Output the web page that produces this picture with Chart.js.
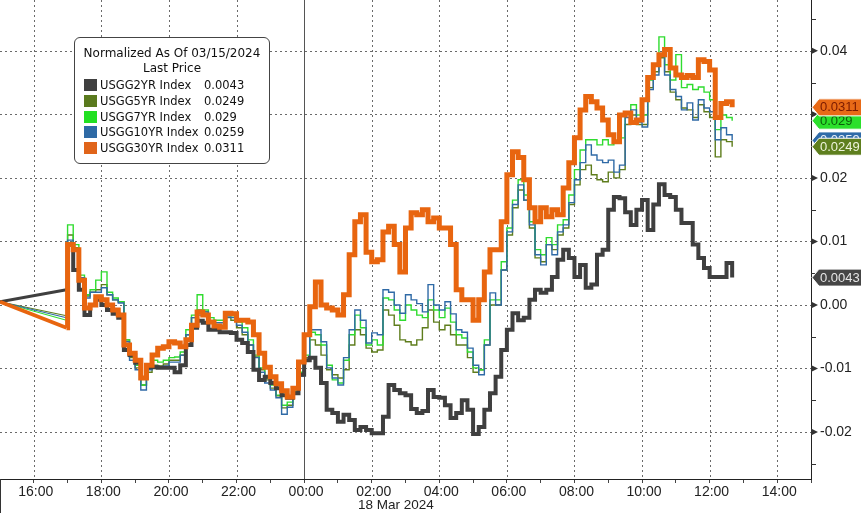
<!DOCTYPE html>
<html><head><meta charset="utf-8">
<script src="https://cdn.jsdelivr.net/npm/chart.js@4.4.1/dist/chart.umd.min.js"></script>
<style>
html,body{margin:0;padding:0;background:#fff;overflow:hidden;}
#wrap{position:relative;width:861px;height:513px;}
#c{position:absolute;left:0;top:0;}
#legend{position:absolute;left:74px;top:37px;width:196px;height:127px;box-sizing:border-box;border:1px solid #444;border-radius:6px;background:#fff;font-family:'DejaVu Sans',Verdana,sans-serif;font-size:12px;color:#111;}
#legend .lt{position:absolute;left:0;width:100%;text-align:center;height:16px;line-height:16px;white-space:nowrap;}
#legend .row{position:absolute;left:0;width:100%;height:16px;line-height:16px;white-space:nowrap;font-size:11.5px;}
#legend .sq{position:absolute;left:9px;top:2px;width:13px;height:12px;}
#legend .nm{position:absolute;left:25px;top:0;}
#legend .vl{position:absolute;left:129px;top:0;}
</style></head><body>
<div id="wrap"><canvas id="c" width="861" height="513"></canvas><div id="legend"></div></div>
<script>
// ---------- DATA ----------
const times = ['15:00','16:58',
 '17:00','17:10','17:20','17:30','17:40','17:50',
 '18:00','18:10','18:20','18:30','18:40','18:50',
 '19:00','19:10','19:20','19:30','19:40','19:50',
 '20:00','20:10','20:20','20:30','20:40','20:50',
 '21:00','21:10','21:20','21:30','21:40','21:50',
 '22:00','22:10','22:20','22:30','22:40','22:50',
 '23:00','23:10','23:20','23:30','23:40','23:50',
 '00:00','00:10','00:20','00:30','00:40','00:50',
 '01:00','01:10','01:20','01:30','01:40','01:50',
 '02:00','02:10','02:20','02:30','02:40','02:50',
 '03:00','03:10','03:20','03:30','03:40','03:50',
 '04:00','04:10','04:20','04:30','04:40','04:50',
 '05:00','05:10','05:20','05:30','05:40','05:50',
 '06:00','06:10','06:20','06:30','06:40','06:50',
 '07:00','07:10','07:20','07:30','07:40','07:50',
 '08:00','08:10','08:20','08:30','08:40','08:50',
 '09:00','09:10','09:20','09:30','09:40','09:50',
 '10:00','10:10','10:20','10:30','10:40','10:50',
 '11:00','11:10','11:20','11:30','11:40','11:50',
 '12:00','12:10','12:20','12:30','12:40'];

const usgg2yr = [0.0005, 0.0024,
 0.0095, 0.0055, 0.0024, -0.0016, 0.0000, 0.0008,
 0.0000, -0.0008, -0.0014, -0.0020, -0.0071, -0.0079,
 -0.0091, -0.0115, -0.0098, -0.0098, -0.0099, -0.0099,
 -0.0099, -0.0106, -0.0095, -0.0063, -0.0036, -0.0025,
 -0.0028, -0.0039, -0.0039, -0.0043, -0.0043, -0.0044,
 -0.0055, -0.0060, -0.0074, -0.0102, -0.0118, -0.0113,
 -0.0123, -0.0131, -0.0142, -0.0146, -0.0139, -0.0110,
 -0.0087, -0.0083, -0.0099, -0.0123, -0.0165, -0.0170,
 -0.0184, -0.0173, -0.0181, -0.0197, -0.0192, -0.0197,
 -0.0202, -0.0202, -0.0176, -0.0126, -0.0134, -0.0139,
 -0.0142, -0.0164, -0.0170, -0.0167, -0.0134, -0.0145,
 -0.0146, -0.0158, -0.0178, -0.0170, -0.0150, -0.0165,
 -0.0203, -0.0192, -0.0165, -0.0139, -0.0113, -0.0071,
 -0.0039, -0.0013, -0.0024, -0.0020, 0.0008, 0.0024,
 0.0019, 0.0024, 0.0044, 0.0071, 0.0087, 0.0074,
 0.0044, 0.0063, 0.0027, 0.0032, 0.0079, 0.0087,
 0.0150, 0.0170, 0.0168, 0.0146, 0.0126, 0.0150,
 0.0165, 0.0118, 0.0158, 0.0190, 0.0173, 0.0170,
 0.0150, 0.0129, 0.0129, 0.0095, 0.0074, 0.0058,
 0.0044, 0.0044, 0.0044, 0.0066, 0.0043];

const usgg5yr = [0.0005, -0.0017,
 0.0110, 0.0090, 0.0043, 0.0014, 0.0020, 0.0024,
 0.0032, 0.0016, 0.0008, 0.0005, -0.0055, -0.0083,
 -0.0099, -0.0126, -0.0106, -0.0095, -0.0096, -0.0093,
 -0.0087, -0.0087, -0.0079, -0.0047, -0.0020, -0.0008,
 -0.0011, -0.0027, -0.0032, -0.0032, -0.0020, -0.0024,
 -0.0036, -0.0047, -0.0063, -0.0082, -0.0102, -0.0118,
 -0.0131, -0.0143, -0.0162, -0.0158, -0.0137, -0.0110,
 -0.0083, -0.0055, -0.0063, -0.0079, -0.0102, -0.0110,
 -0.0115, -0.0102, -0.0063, -0.0039, -0.0047, -0.0068,
 -0.0074, -0.0071, -0.0008, -0.0016, -0.0032, -0.0055,
 -0.0058, -0.0063, -0.0055, -0.0036, -0.0008, -0.0027,
 -0.0039, -0.0032, -0.0047, -0.0063, -0.0063, -0.0083,
 -0.0106, -0.0102, -0.0063, 0.0000, 0.0000, 0.0055,
 0.0110, 0.0153, 0.0181, 0.0165, 0.0121, 0.0074,
 0.0068, 0.0095, 0.0087, 0.0110, 0.0121, 0.0158,
 0.0189, 0.0213, 0.0220, 0.0205, 0.0197, 0.0194,
 0.0209, 0.0200, 0.0213, 0.0284, 0.0299, 0.0284,
 0.0284, 0.0342, 0.0367, 0.0389, 0.0367, 0.0335,
 0.0323, 0.0310, 0.0307, 0.0295, 0.0315, 0.0304,
 0.0295, 0.0233, 0.0260, 0.0257, 0.0249];

const usgg7yr = [0.0005, -0.0024,
 0.0126, 0.0095, 0.0047, 0.0016, 0.0024, 0.0039,
 0.0052, 0.0020, 0.0011, 0.0005, -0.0055, -0.0079,
 -0.0095, -0.0126, -0.0099, -0.0087, -0.0090, -0.0087,
 -0.0083, -0.0082, -0.0074, -0.0039, -0.0016, 0.0016,
 -0.0008, -0.0020, -0.0024, -0.0024, -0.0016, -0.0017,
 -0.0027, -0.0036, -0.0055, -0.0079, -0.0099, -0.0115,
 -0.0126, -0.0142, -0.0158, -0.0153, -0.0134, -0.0106,
 -0.0079, -0.0043, -0.0047, -0.0063, -0.0095, -0.0118,
 -0.0123, -0.0087, -0.0047, -0.0016, -0.0036, -0.0063,
 -0.0055, -0.0063, 0.0011, 0.0008, -0.0008, -0.0024,
 0.0000, -0.0008, -0.0016, -0.0020, 0.0008, -0.0008,
 -0.0020, -0.0005, -0.0027, -0.0047, -0.0052, -0.0074,
 -0.0099, -0.0102, -0.0055, 0.0008, 0.0008, 0.0068,
 0.0121, 0.0165, 0.0197, 0.0173, 0.0131, 0.0087,
 0.0079, 0.0106, 0.0095, 0.0126, 0.0134, 0.0173,
 0.0213, 0.0244, 0.0260, 0.0260, 0.0252, 0.0260,
 0.0252, 0.0257, 0.0263, 0.0304, 0.0315, 0.0299,
 0.0299, 0.0354, 0.0378, 0.0422, 0.0378, 0.0354,
 0.0394, 0.0342, 0.0347, 0.0339, 0.0343, 0.0335,
 0.0323, 0.0276, 0.0299, 0.0295, 0.0290];

const usgg10yr = [0.0005, -0.0020,
 0.0102, 0.0087, 0.0043, 0.0011, 0.0020, 0.0020,
 0.0027, 0.0016, 0.0008, 0.0003, -0.0058, -0.0087,
 -0.0102, -0.0134, -0.0102, -0.0096, -0.0099, -0.0096,
 -0.0090, -0.0090, -0.0079, -0.0047, -0.0020, -0.0016,
 -0.0011, -0.0027, -0.0028, -0.0028, -0.0019, -0.0020,
 -0.0032, -0.0043, -0.0063, -0.0083, -0.0106, -0.0123,
 -0.0134, -0.0146, -0.0172, -0.0161, -0.0139, -0.0112,
 -0.0087, -0.0039, -0.0039, -0.0058, -0.0099, -0.0115,
 -0.0126, -0.0083, -0.0039, -0.0008, -0.0024, -0.0060,
 -0.0044, -0.0047, 0.0024, 0.0020, 0.0000, -0.0013,
 0.0016, 0.0008, 0.0002, -0.0011, 0.0032, 0.0000,
 -0.0008, 0.0005, -0.0014, -0.0039, -0.0043, -0.0068,
 -0.0095, -0.0110, -0.0063, 0.0019, 0.0000, 0.0055,
 0.0115, 0.0158, 0.0189, 0.0165, 0.0126, 0.0079,
 0.0063, 0.0095, 0.0079, 0.0115, 0.0126, 0.0161,
 0.0197, 0.0224, 0.0252, 0.0236, 0.0228, 0.0224,
 0.0228, 0.0209, 0.0220, 0.0295, 0.0307, 0.0288,
 0.0280, 0.0339, 0.0362, 0.0394, 0.0362, 0.0339,
 0.0328, 0.0307, 0.0318, 0.0291, 0.0323, 0.0310,
 0.0304, 0.0260, 0.0279, 0.0268, 0.0259];

const usgg30yr = [0.0005, -0.0036,
 0.0095, 0.0087, 0.0039, -0.0005, 0.0000, 0.0013,
 0.0008, 0.0000, -0.0008, -0.0016, -0.0063, -0.0076,
 -0.0087, -0.0115, -0.0095, -0.0079, -0.0068, -0.0066,
 -0.0058, -0.0060, -0.0066, -0.0055, -0.0032, -0.0011,
 -0.0016, -0.0027, -0.0033, -0.0035, -0.0013, -0.0014,
 -0.0024, -0.0024, -0.0027, -0.0047, -0.0076, -0.0098,
 -0.0113, -0.0124, -0.0135, -0.0145, -0.0131, -0.0090,
 -0.0047, -0.0003, 0.0036, 0.0000, -0.0005, -0.0008,
 -0.0016, 0.0016, 0.0079, 0.0131, 0.0142, 0.0083,
 0.0068, 0.0071, 0.0115, 0.0124, 0.0095, 0.0052,
 0.0121, 0.0145, 0.0142, 0.0150, 0.0131, 0.0137,
 0.0121, 0.0121, 0.0095, 0.0024, 0.0008, 0.0008,
 -0.0024, 0.0008, 0.0052, 0.0087, 0.0087, 0.0131,
 0.0205, 0.0241, 0.0232, 0.0197, 0.0153, 0.0131,
 0.0153, 0.0139, 0.0150, 0.0142, 0.0184, 0.0224,
 0.0263, 0.0307, 0.0328, 0.0320, 0.0310, 0.0291,
 0.0268, 0.0257, 0.0299, 0.0302, 0.0287, 0.0291,
 0.0323, 0.0358, 0.0378, 0.0394, 0.0402, 0.0373,
 0.0362, 0.0358, 0.0361, 0.0358, 0.0386, 0.0383,
 0.0370, 0.0295, 0.0317, 0.0320, 0.0311];

const seriesNames = ['USGG2YR Index','USGG5YR Index','USGG7YR Index','USGG10YR Index','USGG30YR Index'];
const lastValues = ['0.0043','0.0249','0.029','0.0259','0.0311'];
const legendTitle = ['Normalized As Of 03/15/2024','Last Price'];
const xTickLabels = ['16:00','18:00','20:00','22:00','00:00','02:00','04:00','06:00','08:00','10:00','12:00','14:00'];
const yTickValues = [-0.02,-0.01,0,0.01,0.02,0.04];
const yTickLabels = ['-0.02','-0.01','0.00','0.01','0.02','0.04'];
const dateLabel = '18 Mar 2024';

// ---------- STYLE ----------
const FONT = "'Liberation Sans', Arial, sans-serif";
const allSeries = [usgg2yr, usgg5yr, usgg7yr, usgg10yr, usgg30yr];
const lineColors = ['#3f3f3f','#5e7d1c','#2fdc2f','#2f6aa6','#e8650f'];
const legendColors = ['#404040','#5a7a1e','#22e022','#2e6aa5','#e0641a'];
const lineWidths = [4, 1.4, 1.4, 1.4, 5];
const drawOrder = [1, 4, 3, 2, 0];
const tagFill = ['#454545','#5e7f1e','#2be02b','#2f6ba8','#e86a17'];
const tagText = ['#e6e6e6','#eef4dc','#0b5d0b','#e6eef8','#7a1a00'];
const tagPaintOrder = [2, 4, 3, 1, 0];

Chart.defaults.font.family = FONT;

function toHours(t){
  const p = t.split(':').map(Number);
  const h = p[0] >= 15 ? p[0] - 15 : p[0] + 9;
  return (h * 60 + p[1]) / 60;
}

const datasets = [];
allSeries.forEach((vals, i) => {
  datasets.push({
    label: seriesNames[i],
    data: times.slice(1).map((t, j) => ({x: toHours(t), y: vals[j + 1]})),
    borderColor: lineColors[i], borderWidth: lineWidths[i],
    stepped: true, pointRadius: 0, fill: false, order: drawOrder[i],
    borderJoinStyle: 'miter'
  });
  datasets.push({
    label: seriesNames[i] + ' gap',
    data: [{x: toHours(times[0]), y: vals[0]}, {x: toHours(times[1]), y: vals[1]}],
    borderColor: lineColors[i], borderWidth: lineWidths[i] * 0.75,
    stepped: false, pointRadius: 0, fill: false, order: drawOrder[i]
  });
});

const isMajor = v => Math.abs(v * 100 - Math.round(v * 100)) < 1e-6;

const decor = {
  id: 'decor',
  beforeDatasetsDraw(chart){
    const {ctx, chartArea: a, scales: {x, y}} = chart;
    ctx.save();
    ctx.strokeStyle = '#6a6a6a'; ctx.lineWidth = 1; ctx.setLineDash([2, 3]);
    y.ticks.forEach(t => {
      if (!isMajor(t.value)) return;
      const py = Math.round(y.getPixelForValue(t.value)) + 0.5;
      ctx.beginPath(); ctx.moveTo(a.left, py); ctx.lineTo(a.right, py); ctx.stroke();
    });
    x.ticks.forEach(t => {
      if (t.value % 2 !== 1 || t.value === 9) return;
      const px = Math.round(x.getPixelForValue(t.value)) + 0.5;
      ctx.beginPath(); ctx.moveTo(px, a.top); ctx.lineTo(px, a.bottom); ctx.stroke();
    });
    ctx.setLineDash([]);
    ctx.strokeStyle = '#555';
    const p0 = Math.round(x.getPixelForValue(9)) + 0.5;
    ctx.beginPath(); ctx.moveTo(p0, a.top); ctx.lineTo(p0, a.bottom); ctx.stroke();
    ctx.restore();
  },
  afterDraw(chart){
    const {ctx, chartArea: a, scales: {x, y}} = chart;
    ctx.save();
    ctx.fillStyle = '#333'; ctx.strokeStyle = '#333'; ctx.lineWidth = 1;
    y.ticks.forEach(t => {
      const py = y.getPixelForValue(t.value);
      if (isMajor(t.value)) {
        ctx.beginPath(); ctx.moveTo(a.right, py - 3.5); ctx.lineTo(a.right + 7, py); ctx.lineTo(a.right, py + 3.5); ctx.closePath(); ctx.fill();
      } else {
        const q = Math.round(py) + 0.5;
        ctx.beginPath(); ctx.moveTo(a.right, q); ctx.lineTo(a.right + 5, q); ctx.stroke();
      }
    });
    ctx.beginPath(); ctx.moveTo(0.5, a.bottom); ctx.lineTo(0.5, chart.height); ctx.stroke();
    ctx.fillStyle = '#222'; ctx.font = '13.5px ' + FONT; ctx.textBaseline = 'middle'; ctx.textAlign = 'left';
    ctx.fillText(dateLabel, 358, 505);
    ctx.font = '13px ' + FONT;
    tagPaintOrder.forEach(i => {
      const vals = allSeries[i];
      const py = y.getPixelForValue(vals[vals.length - 1]);
      const h = 8.5, L = a.right + 1;
      ctx.beginPath();
      ctx.moveTo(L, py); ctx.lineTo(L + 7, py - h); ctx.lineTo(chart.width + 2, py - h);
      ctx.lineTo(chart.width + 2, py + h); ctx.lineTo(L + 7, py + h); ctx.closePath();
      ctx.fillStyle = tagFill[i]; ctx.fill();
      ctx.strokeStyle = '#ffffff'; ctx.lineWidth = 1; ctx.stroke();
      ctx.fillStyle = tagText[i];
      ctx.fillText(lastValues[i], a.right + 9, py + 0.5);
    });
    ctx.restore();
  }
};

new Chart(document.getElementById('c'), {
  type: 'line',
  data: {datasets},
  options: {
    responsive: false, animation: false, devicePixelRatio: 1,
    layout: {padding: 0},
    plugins: {legend: {display: false}, tooltip: {enabled: false}},
    elements: {point: {radius: 0}, line: {tension: 0}},
    scales: {
      x: {
        type: 'linear', min: 0, max: 24, position: 'bottom',
        grid: {display: true, drawOnChartArea: false, drawTicks: true, tickLength: 4, tickColor: '#444'},
        border: {display: true, color: '#222', width: 1},
        ticks: {
          stepSize: 1, autoSkip: false, maxRotation: 0, minRotation: 0, includeBounds: false,
          padding: 1, labelOffset: 2, color: '#222', font: {size: 14},
          callback: v => (v % 2 === 1 ? xTickLabels[(v - 1) / 2] : '')
        },
        afterFit: s => { s.height = 34; s.paddingLeft = 0; s.paddingRight = 0; }
      },
      y: {
        type: 'linear', position: 'right', min: -0.0274, max: 0.048,
        grid: {display: false, drawOnChartArea: false, drawTicks: false},
        border: {display: true, color: '#222', width: 1},
        ticks: {
          stepSize: 0.005, includeBounds: false, padding: 9, color: '#222', font: {size: 14},
          callback: v => {
            const k = yTickValues.findIndex(t => Math.abs(t - v) < 1e-7);
            return k >= 0 ? yTickLabels[k] : '';
          }
        },
        afterFit: s => { s.width = 50; s.paddingTop = 0; s.paddingBottom = 0; }
      }
    }
  },
  plugins: [decor]
});

// ---------- LEGEND (HTML text) ----------
const lg = document.getElementById('legend');
legendTitle.forEach((t, i) => {
  const d = document.createElement('div');
  d.className = 'lt'; d.style.top = (7 + i * 15) + 'px'; d.textContent = t; lg.appendChild(d);
});
seriesNames.forEach((n, i) => {
  const r = document.createElement('div');
  r.className = 'row'; r.style.top = (39 + i * 15.75) + 'px';
  const sq = document.createElement('div'); sq.className = 'sq'; sq.style.background = legendColors[i];
  const nm = document.createElement('div'); nm.className = 'nm'; nm.textContent = n;
  const vl = document.createElement('div'); vl.className = 'vl'; vl.textContent = lastValues[i];
  r.appendChild(sq); r.appendChild(nm); r.appendChild(vl); lg.appendChild(r);
});
</script>
</body></html>
